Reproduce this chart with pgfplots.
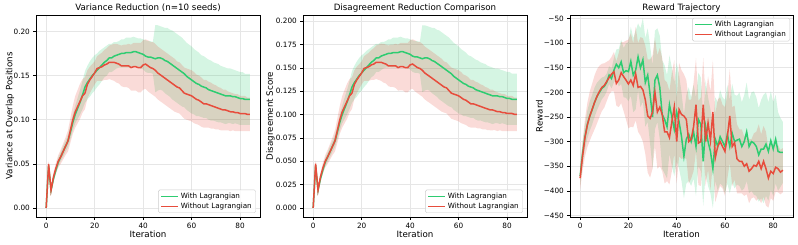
\documentclass[border=0pt]{standalone}
\usepackage{fontspec}
\setmainfont{DejaVu Sans}
\usepackage{pgfplots}
\usepackage{pgfplotstable}
\usepgfplotslibrary{fillbetween}
\pgfplotsset{compat=1.18}
\definecolor{cg}{HTML}{2ECC71}
\definecolor{cr}{HTML}{E74C3C}
\definecolor{gridc}{RGB}{230,230,230}

\pgfplotstableread{
x gm gs rm rs
0 0.000 0.000 0.000 0.000
1 0.048 0.003 0.050 0.004
2 0.020 0.003 0.020 0.004
3 0.033 0.004 0.035 0.005
4 0.043 0.004 0.045 0.006
5 0.052 0.005 0.053 0.007
6 0.058 0.005 0.058 0.008
7 0.064 0.006 0.064 0.009
8 0.070 0.006 0.070 0.010
9 0.076 0.007 0.076 0.012
10 0.086 0.008 0.088 0.014
11 0.097 0.009 0.100 0.016
12 0.106 0.010 0.109 0.018
13 0.113 0.012 0.115 0.019
14 0.120 0.014 0.121 0.020
15 0.128 0.016 0.127 0.019
16 0.137 0.018 0.130 0.018
17 0.142 0.019 0.140 0.016
18 0.146 0.020 0.145 0.015
19 0.150 0.020 0.149 0.014
20 0.153 0.020 0.153 0.013
21 0.156 0.019 0.158 0.014
22 0.159 0.019 0.159 0.015
23 0.162 0.018 0.160 0.016
24 0.165 0.017 0.162 0.017
25 0.167 0.017 0.163 0.018
26 0.170 0.016 0.165 0.019
27 0.170 0.016 0.165 0.020
28 0.172 0.016 0.165 0.021
29 0.173 0.015 0.164 0.022
30 0.174 0.015 0.163 0.022
31 0.175 0.016 0.161 0.023
32 0.175 0.016 0.161 0.024
33 0.176 0.017 0.161 0.024
34 0.176 0.017 0.161 0.025
35 0.176 0.017 0.159 0.026
36 0.177 0.017 0.160 0.027
37 0.177 0.016 0.160 0.027
38 0.176 0.016 0.159 0.028
39 0.175 0.017 0.159 0.028
40 0.174 0.017 0.162 0.028
41 0.172 0.018 0.163 0.028
42 0.171 0.018 0.161 0.029
43 0.171 0.018 0.159 0.029
44 0.170 0.018 0.158 0.030
45 0.169 0.038 0.156 0.030
46 0.170 0.037 0.153 0.030
47 0.170 0.036 0.151 0.030
48 0.169 0.036 0.149 0.030
49 0.167 0.037 0.147 0.030
50 0.166 0.038 0.145 0.030
51 0.164 0.038 0.143 0.030
52 0.162 0.039 0.141 0.030
53 0.160 0.039 0.139 0.030
54 0.158 0.039 0.137 0.029
55 0.156 0.039 0.136 0.029
56 0.154 0.039 0.133 0.029
57 0.152 0.038 0.130 0.029
58 0.149 0.038 0.129 0.029
59 0.147 0.038 0.128 0.029
60 0.145 0.038 0.127 0.029
61 0.143 0.037 0.125 0.029
62 0.141 0.037 0.123 0.028
63 0.140 0.036 0.122 0.028
64 0.138 0.035 0.120 0.028
65 0.137 0.035 0.118 0.027
66 0.136 0.034 0.118 0.027
67 0.134 0.034 0.117 0.026
68 0.133 0.034 0.116 0.026
69 0.132 0.033 0.115 0.025
70 0.131 0.033 0.114 0.025
71 0.130 0.033 0.113 0.024
72 0.129 0.032 0.112 0.024
73 0.128 0.032 0.111 0.023
74 0.127 0.032 0.111 0.023
75 0.127 0.031 0.110 0.022
76 0.127 0.031 0.109 0.022
77 0.126 0.031 0.109 0.021
78 0.126 0.030 0.108 0.021
79 0.125 0.030 0.108 0.021
80 0.124 0.030 0.107 0.020
81 0.124 0.030 0.107 0.020
82 0.123 0.029 0.107 0.020
83 0.123 0.029 0.106 0.019
84 0.123 0.029 0.106 0.019
}\dataA

\pgfplotstableread{
x gm gs rm rs
0 0.0000 0.0000 0.0000 0.0000
1 0.0454 0.0028 0.0473 0.0038
2 0.0189 0.0028 0.0189 0.0038
3 0.0312 0.0038 0.0331 0.0047
4 0.0407 0.0038 0.0426 0.0057
5 0.0492 0.0047 0.0501 0.0066
6 0.0549 0.0047 0.0549 0.0076
7 0.0605 0.0057 0.0605 0.0085
8 0.0662 0.0057 0.0662 0.0095
9 0.0719 0.0066 0.0719 0.0114
10 0.0814 0.0076 0.0832 0.0132
11 0.0918 0.0085 0.0946 0.0151
12 0.1003 0.0095 0.1031 0.0170
13 0.1069 0.0114 0.1088 0.0180
14 0.1135 0.0132 0.1145 0.0189
15 0.1211 0.0151 0.1201 0.0180
16 0.1296 0.0170 0.1230 0.0170
17 0.1343 0.0180 0.1324 0.0151
18 0.1381 0.0189 0.1372 0.0142
19 0.1419 0.0189 0.1410 0.0132
20 0.1447 0.0189 0.1447 0.0123
21 0.1476 0.0180 0.1495 0.0132
22 0.1504 0.0180 0.1504 0.0142
23 0.1533 0.0170 0.1514 0.0151
24 0.1561 0.0161 0.1533 0.0161
25 0.1580 0.0161 0.1542 0.0170
26 0.1608 0.0151 0.1561 0.0180
27 0.1608 0.0151 0.1561 0.0189
28 0.1627 0.0151 0.1561 0.0199
29 0.1637 0.0142 0.1551 0.0208
30 0.1646 0.0142 0.1542 0.0208
31 0.1656 0.0151 0.1523 0.0218
32 0.1656 0.0151 0.1523 0.0227
33 0.1665 0.0161 0.1523 0.0227
34 0.1665 0.0161 0.1523 0.0237
35 0.1665 0.0161 0.1504 0.0246
36 0.1674 0.0161 0.1514 0.0255
37 0.1674 0.0151 0.1514 0.0255
38 0.1665 0.0151 0.1504 0.0265
39 0.1656 0.0161 0.1504 0.0265
40 0.1646 0.0161 0.1533 0.0265
41 0.1627 0.0170 0.1542 0.0265
42 0.1618 0.0170 0.1523 0.0274
43 0.1618 0.0170 0.1504 0.0274
44 0.1608 0.0170 0.1495 0.0284
45 0.1599 0.0359 0.1476 0.0284
46 0.1608 0.0350 0.1447 0.0284
47 0.1608 0.0341 0.1428 0.0284
48 0.1599 0.0341 0.1410 0.0284
49 0.1580 0.0350 0.1391 0.0284
50 0.1570 0.0359 0.1372 0.0284
51 0.1551 0.0359 0.1353 0.0284
52 0.1533 0.0369 0.1334 0.0284
53 0.1514 0.0369 0.1315 0.0284
54 0.1495 0.0369 0.1296 0.0274
55 0.1476 0.0369 0.1287 0.0274
56 0.1457 0.0369 0.1258 0.0274
57 0.1438 0.0359 0.1230 0.0274
58 0.1410 0.0359 0.1220 0.0274
59 0.1391 0.0359 0.1211 0.0274
60 0.1372 0.0359 0.1201 0.0274
61 0.1353 0.0350 0.1183 0.0274
62 0.1334 0.0350 0.1164 0.0265
63 0.1324 0.0341 0.1154 0.0265
64 0.1305 0.0331 0.1135 0.0265
65 0.1296 0.0331 0.1116 0.0255
66 0.1287 0.0322 0.1116 0.0255
67 0.1268 0.0322 0.1107 0.0246
68 0.1258 0.0322 0.1097 0.0246
69 0.1249 0.0312 0.1088 0.0237
70 0.1239 0.0312 0.1078 0.0237
71 0.1230 0.0312 0.1069 0.0227
72 0.1220 0.0303 0.1060 0.0227
73 0.1211 0.0303 0.1050 0.0218
74 0.1201 0.0303 0.1050 0.0218
75 0.1201 0.0293 0.1041 0.0208
76 0.1201 0.0293 0.1031 0.0208
77 0.1192 0.0293 0.1031 0.0199
78 0.1192 0.0284 0.1022 0.0199
79 0.1183 0.0284 0.1022 0.0199
80 0.1173 0.0284 0.1012 0.0189
81 0.1173 0.0284 0.1012 0.0189
82 0.1164 0.0274 0.1012 0.0189
83 0.1164 0.0274 0.1003 0.0180
84 0.1164 0.0274 0.1003 0.0180
}\dataB

\pgfplotstableread{
x gm gs rm rs
0 -370 18 -374 22
1 -325 22 -330 30
2 -290 25 -292 38
3 -265 28 -266 45
4 -248 30 -248 50
5 -235 30 -234 52
6 -220 30 -220 55
7 -208 28 -208 55
8 -200 25 -198 52
9 -192 22 -190 48
10 -188 20 -186 45
11 -180 18 -178 40
12 -165 18 -170 35
13 -172 20 -163 35
14 -155 25 -158 40
15 -143 30 -182 45
16 -150 38 -175 55
17 -138 45 -160 62
18 -160 50 -168 70
19 -156 55 -175 80
20 -158 60 -183 90
21 -137 70 -175 95
22 -165 75 -186 85
23 -155 80 -162 95
24 -128 68 -190 90
25 -150 80 -188 100
26 -134 85 -195 105
27 -180 90 -215 110
28 -165 95 -248 115
29 -205 100 -253 120
30 -250 105 -240 115
31 -175 100 -200 110
32 -165 95 -240 115
33 -190 105 -230 120
34 -245 110 -245 115
35 -255 110 -280 105
36 -270 105 -280 100
37 -225 100 -292 95
38 -250 100 -260 100
39 -275 95 -230 95
40 -240 100 -300 85
41 -260 95 -235 95
42 -290 90 -245 90
43 -330 85 -248 85
44 -295 90 -255 80
45 -285 95 -300 85
46 -300 90 -295 80
47 -280 95 -270 90
48 -310 100 -225 95
49 -255 95 -303 85
50 -265 95 -300 90
51 -340 90 -225 95
52 -270 95 -300 90
53 -300 90 -262 95
54 -320 85 -298 100
55 -355 80 -240 105
56 -295 85 -333 90
57 -310 90 -310 95
58 -290 95 -300 90
59 -300 90 -310 85
60 -310 95 -320 90
61 -285 100 -290 85
62 -310 95 -248 95
63 -283 100 -310 80
64 -300 95 -302 75
65 -297 90 -335 70
66 -295 95 -340 65
67 -310 90 -340 65
68 -300 95 -350 60
69 -280 100 -345 62
70 -310 95 -360 65
71 -300 100 -355 60
72 -303 105 -348 65
73 -310 100 -350 70
74 -327 95 -340 75
75 -315 100 -355 70
76 -315 110 -340 72
77 -305 105 -355 75
78 -320 100 -374 60
79 -298 100 -360 55
80 -315 95 -365 55
81 -295 90 -352 50
82 -320 80 -355 48
83 -322 70 -362 45
84 -322 62 -358 45
}\dataC

\newcommand{\meanband}[5]{%
  \addplot[name path=#5u, draw=none, forget plot] table[x=x, y expr=\thisrow{#2}+\thisrow{#3}] {#1};
  \addplot[name path=#5l, draw=none, forget plot] table[x=x, y expr=\thisrow{#2}-\thisrow{#3}] {#1};
  \addplot[fill=#4, fill opacity=0.2, draw=none, forget plot] fill between[of=#5u and #5l];
}

\pgfplotsset{
  base/.style={
    scale only axis, width=224pt, height=202pt,
    xmin=-4.2, xmax=88.2, xtick={0,20,40,60,80},
    tick pos=left, tick align=outside, major tick length=2.6pt,
    grid=major, major grid style={line width=0.6pt, draw=gridc},
    axis line style={line width=0.6pt, black},
    every tick/.style={black, line width=0.6pt},
    tick label style={font=\fontsize{7.3}{8}\selectfont},
    /pgf/number format/assume math mode=true,
    label style={font=\fontsize{8.7}{10}\selectfont},
    every axis title shift=0pt,
    title style={font=\fontsize{8.7}{10}\selectfont, at={(axis description cs:0.5,1)}, anchor=base, yshift=4.5pt},
    xlabel style={at={(axis description cs:0.5,0)}, anchor=base, yshift=-21pt},
    legend cell align=left,
    legend style={font=\fontsize{7.2}{8}\selectfont, draw=black!20, fill=white, fill opacity=0.8, text opacity=1, rounded corners=1.5pt, inner xsep=2pt, inner ysep=1pt, row sep=-1pt},
    legend image code/.code={\draw[##1] (0pt,0pt) -- (17pt,0pt);},
  },
  gline/.style={cg, line width=1.5pt},
  rline/.style={cr, line width=1.5pt},
}

\begin{document}
\begin{tikzpicture}

\begin{axis}[base, at={(36pt,28pt)}, anchor=south west,
  ymin=-0.0102, ymax=0.2186, ytick={0,0.05,0.1,0.15,0.2},
  yticklabel style={/pgf/number format/.cd, fixed, fixed zerofill, precision=2},
  title={Variance Reduction (n=10 seeds)},
  xlabel={Iteration}, ylabel={Variance at Overlap Positions},
  ylabel style={at={(axis description cs:-0.105,0.5)}, anchor=base},
  legend style={at={(axis description cs:1,0)}, anchor=south east, xshift=-4pt, yshift=4pt}]
  \meanband{\dataA}{gm}{gs}{cg}{pag}
  \meanband{\dataA}{rm}{rs}{cr}{par}
  \addplot[gline] table[x=x, y=gm] {\dataA};
  \addlegendentry{With Lagrangian}
  \addplot[rline] table[x=x, y=rm] {\dataA};
  \addlegendentry{Without Lagrangian}
\end{axis}

\begin{axis}[base, at={(303pt,28pt)}, anchor=south west,
  ymin=-0.0098, ymax=0.2068, ytick={0,0.025,0.05,0.075,0.1,0.125,0.15,0.175,0.2},
  yticklabel style={/pgf/number format/.cd, fixed, fixed zerofill, precision=3},
  title={Disagreement Reduction Comparison},
  xlabel={Iteration}, ylabel={Disagreement Score},
  ylabel style={at={(axis description cs:-0.134,0.5)}, anchor=base},
  legend style={at={(axis description cs:1,0)}, anchor=south east, xshift=-4pt, yshift=4pt}]
  \meanband{\dataB}{gm}{gs}{cg}{pbg}
  \meanband{\dataB}{rm}{rs}{cr}{pbr}
  \addplot[gline] table[x=x, y=gm] {\dataB};
  \addlegendentry{With Lagrangian}
  \addplot[rline] table[x=x, y=rm] {\dataB};
  \addlegendentry{Without Lagrangian}
\end{axis}

\begin{axis}[base, at={(570pt,28pt)}, anchor=south west, width=223pt,
  ymin=-453, ymax=-43,
  ytick={-450,-400,-350,-300,-250,-200,-150,-100,-50},
  yticklabels={−450,−400,−350,−300,−250,−200,−150,−100,−50},
  title={Reward Trajectory},
  xlabel={Iteration}, ylabel={Reward},
  ylabel style={at={(axis description cs:-0.123,0.5)}, anchor=base},
  legend style={at={(axis description cs:1,1)}, anchor=north east, xshift=-3pt, yshift=-3pt}]
  \meanband{\dataC}{gm}{gs}{cg}{pcg}
  \meanband{\dataC}{rm}{rs}{cr}{pcr}
  \addplot[gline] table[x=x, y=gm] {\dataC};
  \addlegendentry{With Lagrangian}
  \addplot[rline] table[x=x, y=rm] {\dataC};
  \addlegendentry{Without Lagrangian}
\end{axis}
\pgfresetboundingbox
\path[use as bounding box] (0,0) rectangle (798pt,245pt);
\end{tikzpicture}
\end{document}
